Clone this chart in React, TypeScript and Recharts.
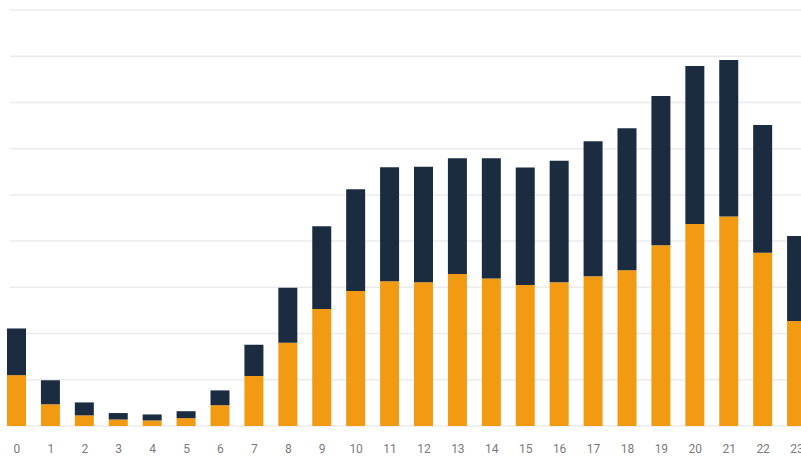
import React from 'react';
import { BarChart, Bar, XAxis, YAxis, CartesianGrid } from 'recharts';

const hours = [
  '0', '1', '2', '3', '4', '5', '6', '7', '8', '9', '10', '11',
  '12', '13', '14', '15', '16', '17', '18', '19', '20', '21', '22', '23',
];
const lower = [110, 47, 23, 14, 12, 17, 45, 108, 180, 253, 292, 313, 311, 329, 319, 305, 311, 324, 337, 391, 437, 453, 375, 227];
const upper = [101, 52, 28, 14, 13, 15, 32, 68, 119, 179, 220, 247, 250, 250, 260, 254, 263, 292, 307, 323, 342, 339, 276, 184];
const yTicks = [0, 100, 200, 300, 400, 500, 600, 700, 800, 900];

const data = hours.map((h, i) => ({ hour: h, lower: lower[i], upper: upper[i] }));

const App: React.FC = () => {
  return (
    <div style={{ position: 'absolute', left: 0, top: 0, width: 801, height: 457, overflow: 'hidden', background: '#fff' }}>
      <BarChart
        width={814}
        height={457}
        data={data}
        margin={{ top: 10, right: 0, bottom: 1, left: 0 }}
        barSize={19}
      >
        <CartesianGrid vertical={false} stroke="#ebebeb" strokeWidth={1.5} x={10} width={810} />
        <XAxis
          dataKey="hour"
          axisLine={false}
          tickLine={false}
          interval={0}
          height={30}
          tickMargin={12}
          tick={{ fill: '#7a7a7a', fontSize: 12, fontFamily: 'Roboto' }}
        />
        <YAxis hide domain={[0, 900]} ticks={yTicks} />
        <Bar dataKey="lower" stackId="a" fill="#f29a12" isAnimationActive={false} />
        <Bar dataKey="upper" stackId="a" fill="#1b2c40" isAnimationActive={false} />
      </BarChart>
    </div>
  );
};

export default App;
